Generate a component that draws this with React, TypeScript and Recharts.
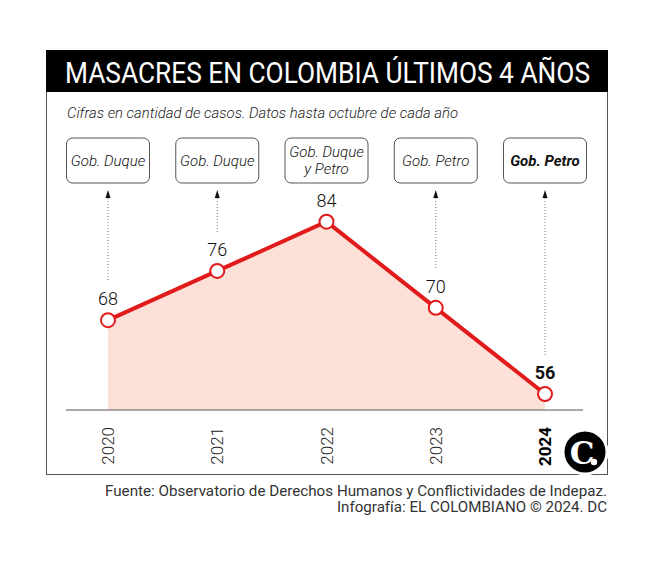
import { ComposedChart, Area, XAxis, YAxis, LabelList } from 'recharts';

const years = ['2020', '2021', '2022', '2023', '2024'];
const massacres = [68, 76, 84, 70, 56];
const governments = [['Gob. Duque'], ['Gob. Duque'], ['Gob. Duque', 'y Petro'], ['Gob. Petro'], ['Gob. Petro']];
const highlightIndex = 4;

const data = years.map((year, i) => ({ year, value: massacres[i] }));

const RED = '#e11b1b';
const FONT = 'Roboto, "Noto Sans", sans-serif';

const BOX_TOP = 138;
const BOX_H = 45;
const BOX_W = 83;

function YearTick(props: any) {
  const { x, y, payload, index } = props;
  const bold = index === highlightIndex;
  return (
    <text
      x={x}
      y={y + 9}
      transform={`rotate(-90 ${x} ${y + 9})`}
      textAnchor="end"
      dominantBaseline="central"
      fontFamily={FONT}
      fontSize={17}
      fontWeight={bold ? 700 : 300}
      fill={bold ? '#000' : '#222'}
    >
      {payload.value}
    </text>
  );
}

function PointLabel(props: any) {
  const { x, y, value, index } = props;
  const bold = index === highlightIndex;
  const lines = governments[index];
  const boxBottom = BOX_TOP + BOX_H;
  const tip = boxBottom + 7;
  const lineEnd = y - 39;
  return (
    <g>
      <rect
        x={x - BOX_W / 2}
        y={BOX_TOP}
        width={BOX_W}
        height={BOX_H}
        rx={6}
        fill="#fff"
        stroke="#555"
        strokeWidth={1}
      />
      {lines.map((line: string, k: number) => (
        <text
          key={k}
          x={x}
          y={BOX_TOP + BOX_H / 2 + (k - (lines.length - 1) / 2) * 17}
          textAnchor="middle"
          dominantBaseline="central"
          fontFamily={FONT}
          fontStyle="italic"
          fontSize={15}
          fontWeight={bold ? 700 : 300}
          fill="#111"
        >
          {line}
        </text>
      ))}
      {lineEnd > tip + 10 && (
        <g>
          <path d={`M${x},${tip} L${x - 2.5},${tip + 8} L${x + 2.5},${tip + 8} Z`} fill="#111" />
          <line x1={x} y1={tip + 8} x2={x} y2={lineEnd} stroke="#777" strokeWidth={1} strokeDasharray="1 2" />
        </g>
      )}
      <text
        x={x}
        y={y - 15}
        textAnchor="middle"
        fontFamily={FONT}
        fontSize={18}
        fontWeight={bold ? 700 : 300}
        fill="#111"
      >
        {value}
      </text>
    </g>
  );
}

export default function App() {
  return (
    <div style={{ position: 'absolute', left: 0, top: 0, width: 658, height: 563, background: '#fff' }}>
      <svg width={658} height={563} style={{ position: 'absolute', left: 0, top: 0 }}>
        <rect x={46.5} y={50.5} width={561} height={424} fill="#fff" stroke="#555" strokeWidth={1} />
        <rect x={46} y={50} width={562} height={42} fill="#000" />
        <text
          x={65}
          y={83}
          fontFamily={FONT}
          fontSize={29}
          fill="#fff"
          textLength={525}
          lengthAdjust="spacingAndGlyphs"
        >
          MASACRES EN COLOMBIA ÚLTIMOS 4 AÑOS
        </text>
        <text
          x={67}
          y={118}
          fontFamily={FONT}
          fontStyle="italic"
          fontSize={15}
          fontWeight={300}
          fill="#222"
          textLength={391}
          lengthAdjust="spacingAndGlyphs"
        >
          Cifras en cantidad de casos. Datos hasta octubre de cada año
        </text>
        <text
          x={607}
          y={496}
          textAnchor="end"
          fontFamily={FONT}
          fontSize={14}
          fill="#333"
          textLength={502}
          lengthAdjust="spacingAndGlyphs"
        >
          Fuente: Observatorio de Derechos Humanos y Conflictividades de Indepaz.
        </text>
        <text
          x={607}
          y={512}
          textAnchor="end"
          fontFamily={FONT}
          fontSize={14}
          fill="#333"
          textLength={270}
          lengthAdjust="spacingAndGlyphs"
        >
          Infografía: EL COLOMBIANO © 2024. DC
        </text>
      </svg>
      <div style={{ position: 'absolute', left: 0, top: 0 }}>
        <ComposedChart
          width={658}
          height={563}
          data={data}
          margin={{ top: 130, right: 75, bottom: 93, left: 66 }}
        >
          <XAxis
            dataKey="year"
            height={60}
            padding={{ left: 42, right: 38 }}
            axisLine={{ stroke: '#555', strokeWidth: 1 }}
            tickLine={false}
            interval={0}
            tick={<YearTick />}
          />
          <YAxis hide domain={[53.4, 98.9]} allowDataOverflow />
          <Area
            type="linear"
            dataKey="value"
            stroke={RED}
            strokeWidth={4}
            fill="#fde1d8"
            fillOpacity={1}
            baseValue={53.4}
            dot={{ r: 7, fill: '#fff', stroke: RED, strokeWidth: 2 }}
            activeDot={false}
            isAnimationActive={false}
          >
            <LabelList dataKey="value" content={<PointLabel />} />
          </Area>
        </ComposedChart>
      </div>
      <svg width={658} height={563} style={{ position: 'absolute', left: 0, top: 0, pointerEvents: 'none' }}>
        <circle cx={585} cy={452} r={22} fill="#000" stroke="#fff" strokeWidth={3} />
        <text
          x={582}
          y={453}
          textAnchor="middle"
          dominantBaseline="central"
          fontFamily='"DejaVu Serif", serif'
          fontWeight={700}
          fontSize={31}
          fill="#fff"
        >
          C
        </text>
        <circle cx={594} cy={462} r={3.2} fill="#fff" />
      </svg>
    </div>
  );
}
